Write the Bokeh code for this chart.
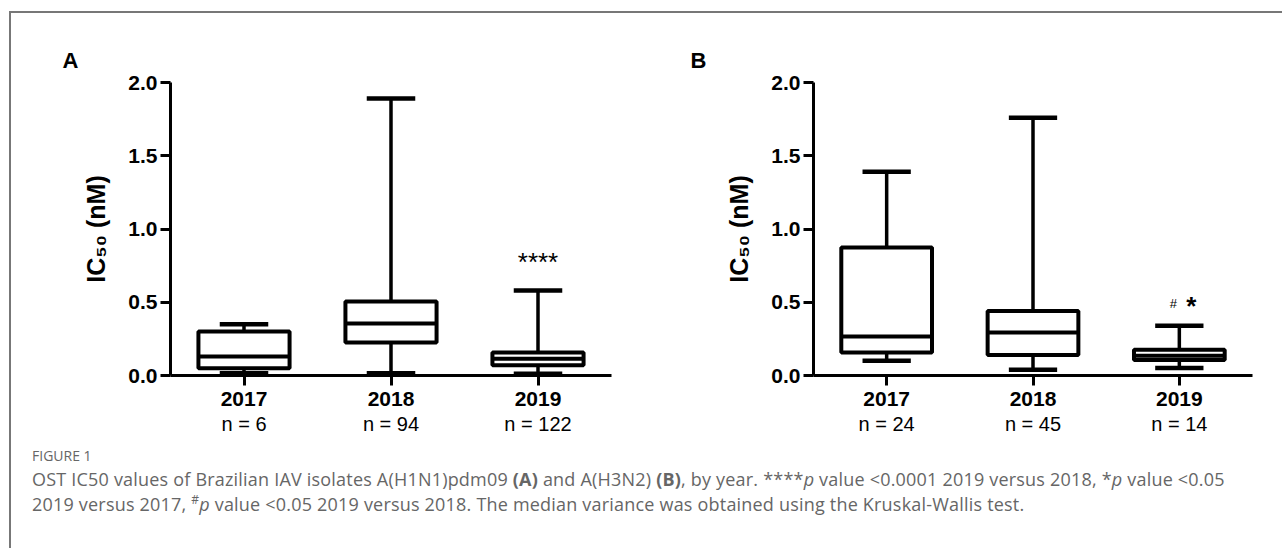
from bokeh.plotting import figure
from bokeh.models import (ColumnDataSource, FactorRange, Range1d, FixedTicker,
                          NumeralTickFormatter, Div, CategoricalAxis,
                          CustomJSTickFormatter)
from bokeh.layouts import row, column
from bokeh.embed import file_html
from bokeh.resources import INLINE
from bokeh.core.properties import value

# ---------------- data ----------------
years = ["2017", "2018", "2019"]

# Panel A: A(H1N1)pdm09
a_n = ["n = 6", "n = 94", "n = 122"]
a_min = [0.015, 0.015, 0.012]
a_q1 = [0.05, 0.225, 0.07]
a_med = [0.13, 0.355, 0.115]
a_q3 = [0.30, 0.505, 0.157]
a_max = [0.35, 1.89, 0.58]
a_sig = ["", "", "****"]

# Panel B: A(H3N2)
b_n = ["n = 24", "n = 45", "n = 14"]
b_min = [0.10, 0.04, 0.052]
b_q1 = [0.157, 0.14, 0.105]
b_med = [0.266, 0.293, 0.135]
b_q3 = [0.874, 0.44, 0.175]
b_max = [1.39, 1.76, 0.34]
b_sig_hash = ["", "", "#"]
b_sig_star = ["", "", "*"]

y_ticks = [0.0, 0.5, 1.0, 1.5, 2.0]
y_title = "IC\u2085\u2080 (nM)"

FONT = "'Liberation Sans', Arial, sans-serif"
FIG_H = 432


def make_panel(letter, n_labels, lo, q1, med, q3, hi, width, bl, br, letter_off):
    src = ColumnDataSource(dict(year=years, lo=lo, q1=q1, med=med, q3=q3, hi=hi))
    p = figure(x_range=FactorRange(*years, range_padding=0),
               y_range=Range1d(0, 2.0),
               width=width, height=FIG_H, output_backend="svg", toolbar_location=None,
               min_border_left=bl, min_border_right=br,
               min_border_top=69, min_border_bottom=FIG_H - 69 - 293)
    p.outline_line_color = None
    p.xgrid.visible = False
    p.ygrid.visible = False

    # panel letter as the figure title
    p.title.text = letter
    p.title.align = "left"
    p.title.offset = letter_off
    p.title.text_font = FONT
    p.title.text_font_style = "bold"
    p.title.text_font_size = "22px"
    p.title.text_color = "black"
    p.title.standoff = 19

    # whisker stems
    p.segment(x0="year", y0="q3", x1="year", y1="hi", source=src,
              line_color="black", line_width=3.5)
    p.segment(x0="year", y0="lo", x1="year", y1="q1", source=src,
              line_color="black", line_width=3.5)
    # boxes
    p.vbar(x="year", bottom="q1", top="q3", width=0.62, source=src,
           fill_color="white", line_color="black", line_width=4)
    # medians
    p.rect(x="year", y="med", width=0.62, height=4, height_units="screen",
           source=src, fill_color="black", line_color=None)
    # caps
    p.rect(x="year", y="hi", width=0.33, height=4.5, height_units="screen",
           source=src, fill_color="black", line_color=None)
    p.rect(x="year", y="lo", width=0.33, height=4.5, height_units="screen",
           source=src, fill_color="black", line_color=None)

    # y axis
    ya = p.yaxis[0]
    ya.ticker = FixedTicker(ticks=y_ticks)
    ya.formatter = NumeralTickFormatter(format="0.0")
    ya.axis_label = y_title
    ya.axis_label_text_font = FONT
    ya.axis_label_text_font_style = "bold"
    ya.axis_label_text_font_size = "25px"
    ya.axis_label_text_color = "black"
    ya.axis_label_standoff = 15
    ya.major_label_text_font = FONT
    ya.major_label_text_font_style = "bold"
    ya.major_label_text_font_size = "21px"
    ya.major_label_text_color = "black"
    ya.major_label_standoff = 3
    ya.axis_line_width = 3
    ya.major_tick_line_width = 3
    ya.major_tick_out = 10
    ya.major_tick_in = 0
    ya.minor_tick_line_color = None

    # x axis
    xa = p.xaxis[0]
    xa.major_label_text_font = FONT
    xa.major_label_text_font_style = "bold"
    xa.major_label_text_font_size = "21px"
    xa.major_label_text_color = "black"
    xa.major_label_standoff = 6
    xa.axis_line_width = 3
    xa.major_tick_line_width = 3
    xa.major_tick_out = 10
    xa.major_tick_in = 0
    xa.minor_tick_line_color = None

    # second row of category labels: sample sizes
    na = CategoricalAxis(formatter=CustomJSTickFormatter(
        args=dict(names=years, labels=n_labels),
        code="const i = names.indexOf(tick); return i >= 0 ? labels[i] : tick;"))
    na.axis_line_color = None
    na.major_tick_line_color = None
    na.minor_tick_line_color = None
    na.major_tick_out = 0
    na.major_tick_in = 0
    na.major_label_standoff = 4
    na.major_label_text_font = FONT
    na.major_label_text_font_size = "20px"
    na.major_label_text_color = "black"
    p.add_layout(na, "below")
    return p, src


pA, srcA = make_panel("A", a_n, a_min, a_q1, a_med, a_q3, a_max,
                      630, 159, 30, -108)
srcA.data["sig"] = a_sig
pA.text(x="year", y="hi", text="sig", source=srcA, y_offset=-29,
        text_align="center", text_baseline="middle",
        text_font=value(FONT), text_font_size="26px", text_color="black")

pB, srcB = make_panel("B", b_n, b_min, b_q1, b_med, b_q3, b_max,
                      639, 172, 28, -123)
srcB.data["hash"] = b_sig_hash
srcB.data["star"] = b_sig_star
pB.text(x="year", y="hi", text="hash", source=srcB, y_offset=-22, x_offset=-6,
        text_align="center", text_baseline="middle",
        text_font=value(FONT), text_font_size="13px", text_color="black")
pB.text(x="year", y="hi", text="star", source=srcB, y_offset=-20, x_offset=12,
        text_align="center", text_baseline="middle", text_font_style="bold",
        text_font=value(FONT), text_font_size="26px", text_color="black")

caption_html = (
    '<div style="font-family:\'Open Sans\',sans-serif;color:#666;white-space:nowrap;">'
    '<div style="font-size:14px;line-height:22px;">FIGURE 1</div>'
    '<div style="font-size:18px;line-height:25px;letter-spacing:0.2px;">'
    'OST IC50 values of Brazilian IAV isolates A(H1N1)pdm09 <b>(A)</b> and A(H3N2) <b>(B)</b>, '
    'by year. ****<i>p</i> value &lt;0.0001 2019 versus 2018, *<i>p</i> value &lt;0.05<br>'
    '2019 versus 2017, <sup style="font-size:12px;line-height:0;">#</sup><i>p</i> value &lt;0.05 2019 versus 2018. '
    'The median variance was obtained using the Kruskal-Wallis test.</div></div>'
)
caption = Div(text=caption_html, width=1240, height=90, margin=(0, 0, 0, 21))

top_bar = Div(text="", width=1271, height=2, margin=(11, 0, 0, 0),
              styles={"background-color": "#777777"})
left_bar = Div(text="", width=2, height=537, margin=(11, 0, 0, 9),
               styles={"background-color": "#777777"})

layout = row(left_bar, column(top_bar, row(pA, pB), caption))

open("out.html", "w").write(file_html(layout, INLINE))
